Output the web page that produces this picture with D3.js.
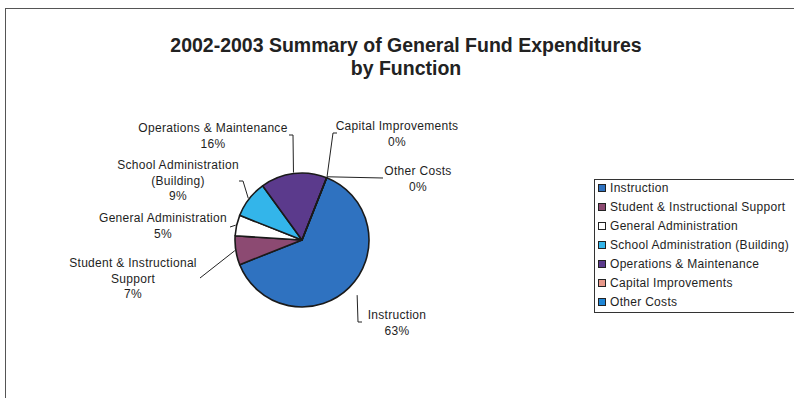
<!DOCTYPE html>
<html>
<head>
<meta charset="utf-8">
<script src="https://cdn.jsdelivr.net/npm/d3@7"></script>
<style>
  body { margin: 0; background: #fff; }
  text { font-family: Arial, "Liberation Sans", sans-serif; fill: #1e1e1e; }
</style>
</head>
<body>
<div id="chart"></div>
<script>
// data (percent of general fund expenditures)
const categories = ['Instruction', 'Student & Instructional Support', 'General Administration',
    'School Administration (Building)', 'Operations & Maintenance', 'Capital Improvements', 'Other Costs'];
const values = [63, 7, 5, 9, 16, 0, 0];
const colors = ['#2f72c0', '#8c4a72', '#ffffff', '#33b5ea', '#5b3a8c', '#e7988a', '#1f86d6'];
const titleLines = ['2002-2003 Summary of General Fund Expenditures', 'by Function'];

// label lines for each slice, with layout (text pos + leader elbow) relative to pie centre
const labelLines = [
    ['Instruction', '63%'],
    ['Student & Instructional', 'Support', '7%'],
    ['General Administration', '5%'],
    ['School Administration', '(Building)', '9%'],
    ['Operations & Maintenance', '16%'],
    ['Capital Improvements', '0%'],
    ['Other Costs', '0%']
];
const labelLayout = [
    {tx: 95, ty: 79, ex: 56, ey: 82, tick: 4, r: 78},
    {tx: -169, ty: 27, ex: -102, ey: 38, tick: 0, r: 68},
    {tx: -139, ty: -18, ex: -72, ey: -13, tick: 0, r: 68},
    {tx: -124, ty: -71, ex: -59, ey: -59, tick: -4, r: 68},
    {tx: -89, ty: -108, ex: -9, ey: -105, tick: -4, r: 68},
    {tx: 95, ty: -110, ex: 31, ey: -107, tick: 4, r: 68},
    {tx: 116, ty: -65, ex: 81, ey: -62, tick: 0, r: 68}
];

const width = 794, height = 398;
const svg = d3.select('#chart').append('svg')
    .attr('width', width)
    .attr('height', height);

// chart frame
svg.append('rect')
    .attr('x', 5.5).attr('y', 8.5)
    .attr('width', 800).attr('height', 400)
    .attr('fill', 'none')
    .attr('stroke', '#555')
    .attr('stroke-width', 1);

svg.selectAll('text.title')
    .data(titleLines)
    .enter()
    .append('text')
    .attr('class', 'title')
    .attr('x', 406)
    .attr('y', (d, i) => 52 + i * 23)
    .attr('text-anchor', 'middle')
    .style('font-size', '19.5px')
    .style('font-weight', 'bold')
    .style('fill', '#222')
    .text(d => d);

const cx = 302, cy = 240, radius = 67;
const startOffset = 21.6 * Math.PI / 180;

let pie = d3.pie()
    .sort(null)
    .value(d => d)
    .startAngle(startOffset)
    .endAngle(startOffset + 2 * Math.PI);
let arcs = pie(values);
let arc = d3.arc().innerRadius(0).outerRadius(radius);

let g = svg.append('g')
    .attr('transform', 'translate(' + cx + ',' + cy + ')');

g.selectAll('path.slice')
    .data(arcs)
    .enter()
    .append('path')
    .attr('class', 'slice')
    .attr('d', arc)
    .attr('fill', (d, i) => colors[i])
    .attr('stroke', '#1a1a1a')
    .attr('stroke-width', 1.6)
    .attr('stroke-linejoin', 'round');

// leader lines
g.selectAll('path.leader')
    .data(arcs)
    .enter()
    .append('path')
    .attr('class', 'leader')
    .attr('d', (d, i) => {
        let L = labelLayout[i];
        let a = (d.startAngle + d.endAngle) / 2;
        let sx = L.r * Math.sin(a), sy = -L.r * Math.cos(a);
        let p = d3.path();
        p.moveTo(sx, sy);
        p.lineTo(L.ex, L.ey);
        if (L.tick !== 0) p.lineTo(L.ex + L.tick, L.ey);
        return p.toString();
    })
    .attr('fill', 'none')
    .attr('stroke', '#222')
    .attr('stroke-width', 1);

// slice labels
let labels = g.selectAll('text.label')
    .data(arcs)
    .enter()
    .append('text')
    .attr('class', 'label')
    .attr('text-anchor', 'middle')
    .style('font-size', '12px')
    .style('letter-spacing', '0.3px');
labels.each(function(d, i) {
    let L = labelLayout[i];
    d3.select(this).selectAll('tspan')
        .data(labelLines[i])
        .enter()
        .append('tspan')
        .attr('x', L.tx)
        .attr('y', (t, j) => L.ty + j * 15.5)
        .text(t => t);
});

// legend
let legendX = 594, legendY = 179, rowH = 19;
svg.append('rect')
    .attr('x', legendX + 0.5).attr('y', legendY + 0.5)
    .attr('width', 210).attr('height', 133)
    .attr('fill', '#fff')
    .attr('stroke', '#333')
    .attr('stroke-width', 1);

let legend = svg.selectAll('g.legendItem')
    .data(categories)
    .enter()
    .append('g')
    .attr('class', 'legendItem')
    .attr('transform', (d, i) => 'translate(' + (legendX + 4) + ',' + (188 + i * rowH) + ')');
legend.append('rect')
    .attr('x', 0.5).attr('y', -3.5)
    .attr('width', 7).attr('height', 7)
    .attr('fill', (d, i) => colors[i])
    .attr('stroke', '#222')
    .attr('stroke-width', 1);
legend.append('text')
    .attr('x', 12)
    .attr('y', 4)
    .style('font-size', '12px')
    .style('letter-spacing', '0.3px')
    .text(d => d);
</script>
</body>
</html>
